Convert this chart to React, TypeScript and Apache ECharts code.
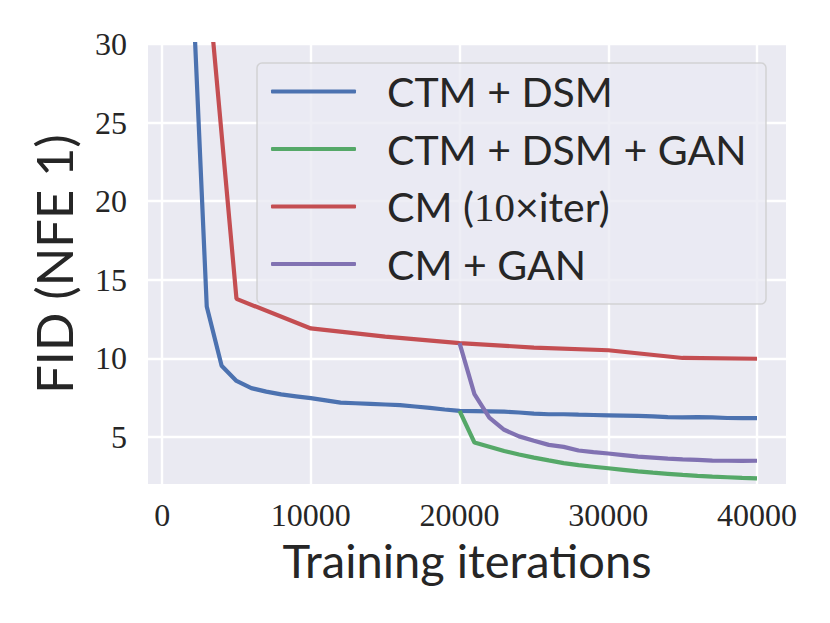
import React, { useEffect, useRef } from "react";
import * as echarts from "echarts";

const seriesNames = ["CTM + DSM", "CTM + DSM + GAN", "CM (10×iter)", "CM + GAN"];
const seriesColors = ["#4C72B0", "#55A868", "#C44E52", "#8172B2"];

const ctmDsmIters = [
  1000, 2000, 3000, 4000, 5000, 6000, 7000, 8000, 9000, 10000,
  11000, 12000, 13000, 14000, 15000, 16000, 17000, 18000, 19000, 20000,
  21000, 22000, 23000, 24000, 25000, 26000, 27000, 28000, 29000, 30000,
  31000, 32000, 33000, 34000, 35000, 36000, 37000, 38000, 39000, 40000,
];
const ctmDsmFid = [
  60, 34.8, 13.3, 9.52, 8.56, 8.1, 7.88, 7.7, 7.58, 7.46,
  7.32, 7.18, 7.14, 7.1, 7.06, 7.02, 6.93, 6.84, 6.74, 6.65,
  6.64, 6.62, 6.6, 6.55, 6.48, 6.44, 6.44, 6.41, 6.39, 6.37,
  6.35, 6.33, 6.3, 6.25, 6.24, 6.25, 6.24, 6.2, 6.19, 6.19,
];

const ctmDsmGanIters = [
  20000, 21000, 22000, 23000, 24000, 25000, 26000, 27000, 28000, 29000, 30000,
  31000, 32000, 33000, 34000, 35000, 36000, 37000, 38000, 39000, 40000,
];
const ctmDsmGanFid = [
  6.65, 4.64, 4.37, 4.1, 3.88, 3.68, 3.5, 3.33, 3.2, 3.1, 3.0,
  2.9, 2.8, 2.72, 2.65, 2.58, 2.52, 2.47, 2.43, 2.39, 2.36,
];

const cmIters = [1000, 5000, 10000, 15000, 20000, 25000, 30000, 35000, 40000];
const cmFid = [55.7, 13.78, 11.9, 11.38, 10.97, 10.68, 10.51, 10.02, 9.97];

const cmGanIters = [
  20000, 21000, 22000, 23000, 24000, 25000, 26000, 27000, 28000, 29000, 30000,
  31000, 32000, 33000, 34000, 35000, 36000, 37000, 38000, 39000, 40000,
];
const cmGanFid = [
  10.97, 7.72, 6.22, 5.45, 5.03, 4.75, 4.49, 4.36, 4.13, 4.03, 3.94,
  3.84, 3.74, 3.68, 3.62, 3.57, 3.53, 3.49, 3.48, 3.47, 3.48,
];

const xTicks = [0, 10000, 20000, 30000, 40000];
const yTicks = [5, 10, 15, 20, 25, 30];

const xLabel = "Training iterations";
const yLabel = "FID (NFE 1)";

const pairs = (xs: number[], ys: number[]) => xs.map((x, i) => [x, ys[i]]);

export default function App() {
  const ref = useRef<HTMLDivElement>(null);

  useEffect(() => {
    if (!ref.current) return;
    const chart = echarts.init(ref.current, undefined, { renderer: "svg" });
    const dark = "#262626";
    const serif = "'Liberation Serif', 'DejaVu Serif', serif";
    const sans = "Lato, 'DejaVu Sans', sans-serif";
    const datasets = [
      pairs(ctmDsmIters, ctmDsmFid),
      pairs(ctmDsmGanIters, ctmDsmGanFid),
      pairs(cmIters, cmFid),
      pairs(cmGanIters, cmGanFid),
    ];
    chart.setOption({
      animation: false,
      backgroundColor: "#ffffff",
      grid: {
        left: 148,
        right: 44,
        top: 44,
        bottom: 139,
        show: true,
        backgroundColor: "#EAEAF2",
        borderWidth: 0,
        containLabel: false,
        outerBoundsMode: "none",
      },
      xAxis: {
        type: "value",
        min: -950,
        max: 41950,
        minInterval: 10000,
        maxInterval: 10000,
        splitNumber: 5,
        axisLine: { show: false },
        axisTick: { show: false },
        axisLabel: {
          showMinLabel: false,
          showMaxLabel: false,
          margin: 15,
          color: dark,
          fontFamily: serif,
          fontSize: 32,
          formatter: (v: number) => (xTicks.includes(v) ? String(v) : ""),
        },
        splitLine: {
          show: true,
          showMinLine: false,
          showMaxLine: false,
          lineStyle: { color: "#ffffff", width: 2.4 },
        },
        name: xLabel,
        nameLocation: "middle",
        nameGap: 52,
        nameTextStyle: { color: dark, fontFamily: sans, fontSize: 47 },
      },
      yAxis: {
        type: "value",
        min: 2,
        max: 30,
        minInterval: 5,
        maxInterval: 5,
        splitNumber: 5,
        axisLine: { show: false },
        axisTick: { show: false },
        axisLabel: {
          showMinLabel: false,
          margin: 21,
          color: dark,
          fontFamily: serif,
          fontSize: 32,
          formatter: (v: number) => (yTicks.includes(v) ? String(v) : ""),
        },
        splitLine: {
          show: true,
          showMinLine: false,
          lineStyle: { color: "#ffffff", width: 2.4 },
        },
        name: yLabel,
        nameLocation: "middle",
        nameGap: 69,
        nameTextStyle: { color: dark, fontFamily: sans, fontSize: 50.5 },
      },
      legend: {
        show: true,
        orient: "vertical",
        left: 271,
        top: 71,
        padding: 0,
        itemGap: 16.5,
        itemWidth: 85,
        itemHeight: 4,
        icon: "roundRect",
        z: 20,
        data: seriesNames,
        formatter: (name: string) =>
          name === "CM (10×iter)" ? "CM ({s|10}×iter)" : name,
        textStyle: {
          color: dark,
          fontFamily: sans,
          fontSize: 41,
          lineHeight: 40,
          padding: [0, 0, 0, 26],
          rich: {
            s: { fontFamily: serif, fontSize: 41, lineHeight: 40, color: dark },
          },
        },
      },
      graphic: [
        {
          type: "rect",
          z: 10,
          shape: { x: 257, y: 63, width: 509, height: 241, r: 5 },
          style: {
            fill: "rgba(234,234,242,0.8)",
            stroke: "rgba(204,204,204,0.8)",
            lineWidth: 1.5,
          },
        },
      ],
      series: datasets.map((d, i) => ({
        name: seriesNames[i],
        type: "line",
        data: d,
        symbol: "none",
        showSymbol: false,
        clip: true,
        color: seriesColors[i],
        itemStyle: { color: seriesColors[i] },
        lineStyle: { color: seriesColors[i], width: 4.2 },
        z: 3,
      })),
    });
    return () => chart.dispose();
  }, []);

  return (
    <div
      ref={ref}
      style={{ position: "fixed", left: 0, top: 0, width: 830, height: 623 }}
    />
  );
}
